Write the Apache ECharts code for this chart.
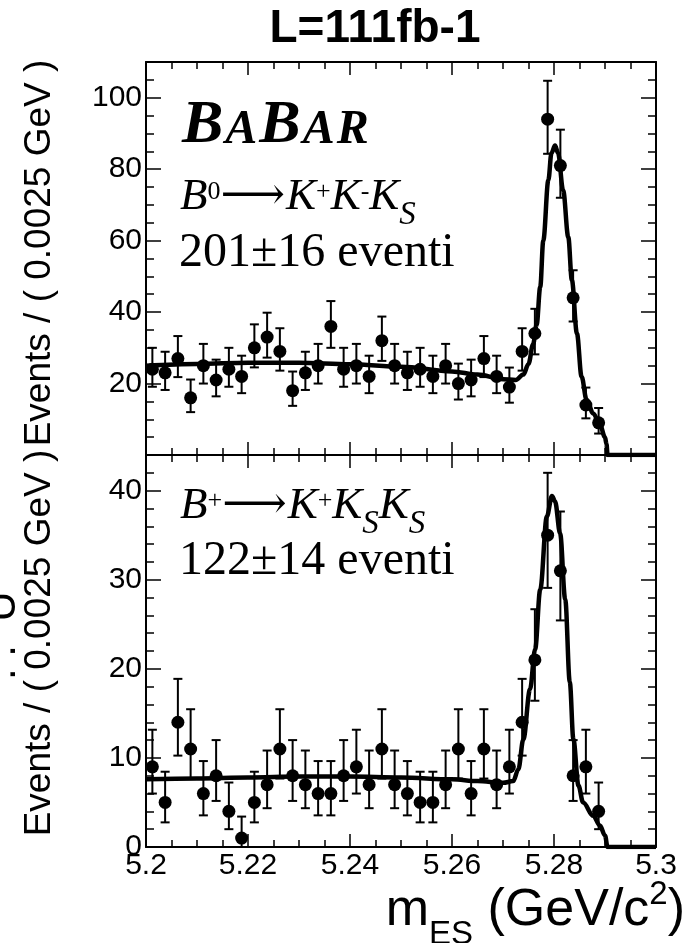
<!DOCTYPE html>
<html><head><meta charset="utf-8">
<script src="https://cdn.jsdelivr.net/npm/echarts@6/dist/echarts.min.js"></script>
<style>html,body{margin:0;padding:0;background:#fff}#c{width:691px;height:943px}</style>
</head><body><div id="c"></div>
<script>
// ---- data ----
const binCenters = [5.20125,5.20375,5.20625,5.20875,5.21125,5.21375,5.21625,5.21875,5.22125,5.22375,5.22625,5.22875,5.23125,5.23375,5.23625,5.23875,5.24125,5.24375,5.24625,5.24875,5.25125,5.25375,5.25625,5.25875,5.26125,5.26375,5.26625,5.26875,5.27125,5.27375,5.27625,5.27875,5.28125,5.28375,5.28625,5.28875];
const topCounts = [24,23,27,16,25,21,24,22,30,33,29,18,23,25,36,24,25,22,32,25,23,24,22,25,20,21,27,22,19,29,34,94,81,44,14,9];
const botCounts = [9,5,14,11,6,8,4,1,5,7,11,8,7,6,6,8,9,7,11,7,6,5,5,7,11,6,11,7,9,14,21,35,31,8,9,4];
const fitTopX = [5.2,5.21,5.22,5.23,5.24,5.25,5.26,5.265,5.27,5.2725,5.274,5.275,5.2759,5.2766,5.2773,5.2779,5.2789,5.2795,5.2802,5.2808,5.2818,5.2828,5.2835,5.2845,5.2854,5.2864,5.2877,5.289,5.29,5.2903,5.2905,5.3];
const fitTopY = [25.0,25.5,25.8,25.8,25.4,24.7,23.4,22.5,21.2,21.0,22.5,25.5,31,36.5,47,60,77,84.5,86.6,84.5,74,61,49,34,22,15.4,11.6,8.5,5.0,3.0,0,0];
const fitBotX = [5.2,5.21,5.22,5.23,5.24,5.25,5.26,5.265,5.27,5.272,5.273,5.274,5.2753,5.2763,5.2773,5.2786,5.2796,5.2802,5.2812,5.2822,5.2831,5.2838,5.2848,5.2857,5.2877,5.289,5.29,5.2905,5.3];
const fitBotY = [7.6,7.7,7.8,7.9,7.9,7.8,7.6,7.4,7.2,7.4,8.7,12.1,17.7,22.2,28.9,37.1,39.4,38.8,35.2,27.8,18.5,12.1,6.9,5.0,3.5,2.4,1.3,0,0];
const xTickLabels = ['5.2','5.22','5.24','5.26','5.28','5.3'];
const topYTicks = [20,40,60,80,100];
const botYTicks = [0,10,20,30,40];

// Poisson (Garwood-like) error interval derived from counts
function errLo(n){ return n - Math.sqrt(n); }
function errHi(n){ return n + 1 + Math.sqrt(n + 1); }

const chart = echarts.init(document.getElementById('c'), null, {renderer:'canvas'});
const BLACK = '#000';
const SANS = 'Liberation Sans';
const SERIF = 'Liberation Serif';

function xAxisDef(grid, pos, showLabels){
  return {
    type:'value', gridIndex:grid, position:pos, min:5.2, max:5.3, interval:0.02,
    axisLine:{show:true, onZero:false, lineStyle:{color:BLACK, width:2}},
    axisTick:{show:true, inside:true, length:13, lineStyle:{color:BLACK, width:1.5}},
    minorTick:{show:true, splitNumber:4, length:7, lineStyle:{color:BLACK, width:1.5}},
    splitLine:{show:false},
    axisLabel:{show:showLabels, color:BLACK, fontFamily:SANS, fontSize:30, margin:4,
      formatter: v => { const s = parseFloat(v.toFixed(3)).toString(); return xTickLabels.indexOf(s) >= 0 ? s : ''; }}
  };
}
function yAxisDef(grid, pos, max, interval, minorSplit, showLabels, ticks){
  return {
    type:'value', gridIndex:grid, position:pos, min:0, max:max, interval:interval,
    axisLine:{show:true, onZero:false, lineStyle:{color:BLACK, width:2}},
    axisTick:{show:true, inside:true, length:15, lineStyle:{color:BLACK, width:1.5}},
    minorTick:{show:true, splitNumber:minorSplit, length:8, lineStyle:{color:BLACK, width:1.5}},
    splitLine:{show:false},
    axisLabel:{show:showLabels, color:BLACK, fontFamily:SANS, fontSize:30, margin:4,
      formatter: v => ticks.indexOf(Math.round(v)) >= 0 && Math.abs(v-Math.round(v))<1e-6 ? String(Math.round(v)) : ''}
  };
}

function errSeries(xi, yi, counts){
  return {
    type:'custom', xAxisIndex:xi, yAxisIndex:yi, clip:true, silent:true, z:3,
    data: binCenters.map((x,i)=>[x, errLo(counts[i]), errHi(counts[i])]),
    encode:{x:0, y:[1,2]},
    renderItem(params, api){
      const x = api.value(0), l = api.value(1), h = api.value(2);
      const p1 = api.coord([x,l]), p2 = api.coord([x,h]);
      const c = 4.5, st = {stroke:BLACK, lineWidth:2};
      return {type:'group', children:[
        {type:'line', shape:{x1:p1[0],y1:p1[1],x2:p2[0],y2:p2[1]}, style:st},
        {type:'line', shape:{x1:p1[0]-c,y1:p1[1],x2:p1[0]+c,y2:p1[1]}, style:st},
        {type:'line', shape:{x1:p2[0]-c,y1:p2[1],x2:p2[0]+c,y2:p2[1]}, style:st}
      ]};
    }
  };
}
function ptSeries(xi, yi, counts){
  return {type:'scatter', xAxisIndex:xi, yAxisIndex:yi, symbol:'circle', symbolSize:13, z:4,
    itemStyle:{color:BLACK, opacity:1}, emphasis:{disabled:true}, data: binCenters.map((x,i)=>[x, counts[i]])};
}
function fitSeries(xi, yi, xs, ys){
  return {type:'line', xAxisIndex:xi, yAxisIndex:yi, showSymbol:false, smooth:0.35, smoothMonotone:'x', z:5,
    clip:true, lineStyle:{color:BLACK, width:4.5}, data: xs.map((x,i)=>[x, ys[i]])};
}

const decayRich = {
  i:{fontFamily:SERIF, fontStyle:'italic', fontSize:45, lineHeight:70, verticalAlign:'middle', color:BLACK},
  ar:{fontFamily:'DejaVu Serif', fontSize:45, lineHeight:70, verticalAlign:'middle', color:BLACK, padding:[0,1,0,0]},
  sup:{fontFamily:SERIF, fontSize:26, lineHeight:26, verticalAlign:'top', padding:[17,0,0,0], color:BLACK},
  sub:{fontFamily:SERIF, fontStyle:'italic', fontSize:33, lineHeight:33, verticalAlign:'bottom', color:BLACK}
};
const countRich = {
  n:{fontFamily:SERIF, fontSize:48, lineHeight:70, verticalAlign:'middle', color:BLACK}
};
const babarRich = {
  b:{fontFamily:SERIF, fontStyle:'italic', fontWeight:'bold', fontSize:62, lineHeight:72, verticalAlign:'bottom', color:BLACK, padding:[0,2,0,0]},
  s:{fontFamily:SERIF, fontStyle:'italic', fontWeight:'bold', fontSize:48, lineHeight:48, verticalAlign:'bottom', padding:[0,2,2,0], color:BLACK}
};
const axRich = {
  n:{fontFamily:SANS, fontSize:52, lineHeight:80, verticalAlign:'middle', color:BLACK},
  sub:{fontFamily:SANS, fontSize:33, lineHeight:33, verticalAlign:'bottom', color:BLACK},
  sup:{fontFamily:SANS, fontSize:33, lineHeight:33, verticalAlign:'top', padding:[7,0,0,0], color:BLACK}
};

const option = {
  backgroundColor:'#fff',
  animation:false,
  grid:[
    {left:146, right:35, top:62, height:393},
    {left:146, right:35, top:455, height:392}
  ],
  xAxis:[ xAxisDef(0,'bottom',false), xAxisDef(0,'top',false), xAxisDef(1,'bottom',true), xAxisDef(1,'top',false) ],
  yAxis:[
    yAxisDef(0,'left',110,20,4,true,topYTicks),
    yAxisDef(0,'right',110,20,4,false,topYTicks),
    yAxisDef(1,'left',44,10,5,true,botYTicks),
    yAxisDef(1,'right',44,10,5,false,botYTicks)
  ],
  series:[
    fitSeries(0,0,fitTopX,fitTopY),
    errSeries(0,0,topCounts),
    ptSeries(0,0,topCounts),
    fitSeries(2,2,fitBotX,fitBotY),
    errSeries(2,2,botCounts),
    ptSeries(2,2,botCounts)
  ],
  graphic:[
    {type:'text', x:375, y:29, style:{text:'L=111fb-1', font:'bold 46px "Liberation Sans"', fill:BLACK, align:'center', verticalAlign:'middle'}},
    {type:'text', x:40, y:253, rotation:Math.PI/2, style:{text:'Events / ( 0.0025 GeV )', font:'37px "Liberation Sans"', fill:BLACK, align:'center', verticalAlign:'middle'}},
    {type:'text', x:40, y:643, rotation:Math.PI/2, style:{text:'Events / ( 0.0025 GeV )', font:'37px "Liberation Sans"', fill:BLACK, align:'center', verticalAlign:'middle'}},
    {type:'text', x:3, y:620, rotation:Math.PI/2, style:{text:". .  U  '", font:'42px "Liberation Sans"', fill:BLACK, align:'center', verticalAlign:'middle'}},
    {type:'text', x:182, y:85, style:{text:'{b|B}{s|A}{b|B}{s|A}{s|R}', rich:babarRich, verticalAlign:'top'}},
    {type:'text', x:180, y:162, style:{text:'{i|B}{sup|0}{ar|⟶}{i|K}{sup|+}{i|K}{sup|-}{i|K}{sub|S}', rich:decayRich, verticalAlign:'top'}},
    {type:'text', x:179, y:218, style:{text:'{n|201±16 eventi}', rich:countRich, verticalAlign:'top'}},
    {type:'text', x:180, y:471, style:{text:'{i|B}{sup|+}{ar|⟶}{i|K}{sup|+}{i|K}{sub|S}{i|K}{sub|S}', rich:decayRich, verticalAlign:'top'}},
    {type:'text', x:179, y:526, style:{text:'{n|122±14 eventi}', rich:countRich, verticalAlign:'top'}},
    {type:'text', x:685, y:871, style:{text:'{n|m}{sub|ES}{n| (GeV/c}{sup|2}{n|)}', rich:axRich, align:'right', verticalAlign:'top'}}
  ]
};
chart.setOption(option);
</script>
</body></html>
